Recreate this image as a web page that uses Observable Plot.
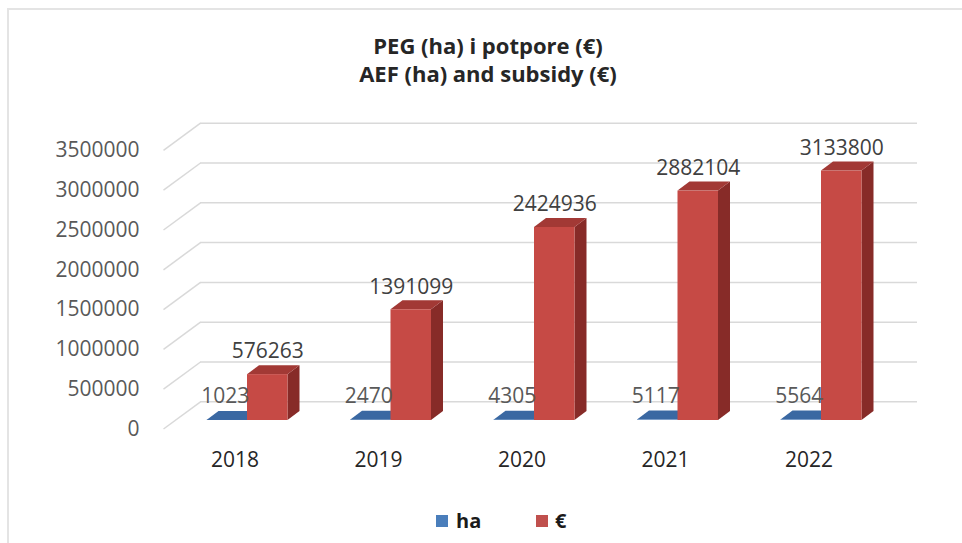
<!DOCTYPE html>
<html>
<head>
<meta charset="utf-8">
<script src="https://cdn.jsdelivr.net/npm/d3@7"></script>
<script src="https://cdn.jsdelivr.net/npm/@observablehq/plot@0.6"></script>
<style>
  body { margin: 0; background: #fff; }
  #chart { position: relative; width: 962px; height: 543px; overflow: hidden; font-family: "Open Sans", sans-serif; background: #fff; }
  #frame { position: absolute; left: 7px; top: 8px; width: 1000px; height: 600px; border-top: 2px solid #e4e4e4; border-left: 2px solid #e4e4e4; }
  #title { position: absolute; left: 0; top: 31px; width: 976px; text-align: center; font-weight: 700; font-size: 22px; line-height: 28px; color: #262626; }
  #plot { position: absolute; left: 0; top: 100px; }
  .sw { position: absolute; width: 12px; height: 12px; top: 515px; }
  .lt { position: absolute; top: 506px; font-weight: 700; font-size: 20px; line-height: 30px; color: #1a1a1a; }
</style>
</head>
<body>
<div id="chart">
  <div id="frame"></div>
  <div id="title">PEG (ha) i potpore (€)<br>AEF (ha) and subsidy (€)</div>
  <div id="plot"></div>
  <div class="sw" style="left:436px;background:#4A7EBB"></div>
  <div class="lt" style="left:456px">ha</div>
  <div class="sw" style="left:536px;background:#C0504D"></div>
  <div class="lt" style="left:555px">€</div>
</div>
<script>
// ---- data ----
const years = ["2018", "2019", "2020", "2021", "2022"];
const haValues = [1023, 2470, 4305, 5117, 5564];
const euroValues = [576263, 1391099, 2424936, 2882104, 3133800];
const yTicks = [0, 500000, 1000000, 1500000, 2000000, 2500000, 3000000, 3500000];
const seriesNames = ["ha", "€"];

// ---- geometry (pixels) ----
const G0 = 247, STEP = 143.5;           // first group centre, group step
const FRAME_L = 200, FRAME_R = 917, W = 962, H = 380;
const PLOT_TOP = 41.4, PLOT_BOTTOM = 320; // y(3.5M), y(0) within svg
const PXY = (PLOT_BOTTOM - PLOT_TOP) / 3500000;
const ux = px => px / STEP;
const uy = px => px / PXY;
const BAR_W = ux(40.5);
const DX = ux(12), DY = uy(9);
const BACK_DY = 18.7, FRONT_DY = 8.5;
const X_MIN = ux(FRAME_L - G0), X_MAX = ux(FRAME_R - G0), X_FRONT = ux(163 - G0);

const colors = {
  ha: {front: "#4F81BD", top: "#3A68A2", side: "#2F568A"},
  "€": {front: "#C64A45", top: "#A23935", side: "#872B28"}
};

// ---- build bar table ----
const bars = [];
years.forEach((yr, i) => {
  bars.push({id: yr + "ha", series: seriesNames[0], i, value: haValues[i], x1: i - BAR_W, x2: i});
  bars.push({id: yr + "eur", series: seriesNames[1], i, value: euroValues[i], x1: i, x2: i + BAR_W});
});
const tops = bars.flatMap(b => [
  {id: b.id, series: b.series, y: b.value, x1: b.x1, x2: b.x2},
  {id: b.id, series: b.series, y: b.value + DY, x1: b.x1 + DX, x2: b.x2 + DX}
]);
const sides = bars.flatMap(b => [
  {id: b.id, series: b.series, x: b.x2, y1: 0, y2: b.value},
  {id: b.id, series: b.series, x: b.x2 + DX, y1: DY, y2: b.value + DY}
]);

function barMarks(s) {
  const c = colors[s];
  const f = d => d.series === s;
  return [
    Plot.areaY(sides.filter(f), {x: "x", y1: "y1", y2: "y2", z: "id", fill: c.side}),
    Plot.areaX(tops.filter(f), {y: "y", x1: "x1", x2: "x2", z: "id", fill: c.top}),
    Plot.rectY(bars.filter(f), {x1: "x1", x2: "x2", y1: 0, y2: "value", fill: c.front})
  ];
}

const plot = Plot.plot({
  width: W, height: H,
  marginLeft: FRAME_L, marginRight: W - FRAME_R, marginTop: PLOT_TOP, marginBottom: H - PLOT_BOTTOM,
  x: {type: "linear", domain: [X_MIN, X_MAX], axis: null},
  y: {type: "linear", domain: [0, 3500000], axis: null},
  style: {fontFamily: "'Open Sans', sans-serif", background: "transparent", overflow: "visible"},
  marks: [
    Plot.ruleY(yTicks, {dy: -BACK_DY, stroke: "#d9d9d9", strokeWidth: 1.5}),
    Plot.link(yTicks, {x1: () => X_FRONT, x2: () => X_MIN, y1: d => d - uy(FRONT_DY), y2: d => d + uy(BACK_DY), stroke: "#d9d9d9", strokeWidth: 1.5}),
    Plot.axisY(yTicks, {anchor: "left", tickSize: 0, tickPadding: 61, dy: FRONT_DY, tickFormat: d3.format("d"), fontSize: 21, color: "#595959", label: null}),
    ...barMarks(seriesNames[0]),
    ...barMarks(seriesNames[1]),
    Plot.text(years, {x: (d, i) => i, y: 0, text: d => d, dx: -12.5, dy: 40, fontSize: 21, fill: "#262626", lineAnchor: "middle"}),
    Plot.text(bars.filter(b => b.series === "ha"), {x: d => (d.x1 + d.x2) / 2, y: "value", text: d => String(d.value), dx: -2, dy: -24, fontSize: 21, fill: "#595959", lineAnchor: "middle"}),
    Plot.text(bars.filter(b => b.series === "€"), {x: d => (d.x1 + d.x2) / 2, y: "value", text: d => String(d.value), dy: -23, fontSize: 21, fill: "#404040", lineAnchor: "middle"})
  ]
});
document.getElementById("plot").appendChild(plot);
</script>
</body>
</html>
